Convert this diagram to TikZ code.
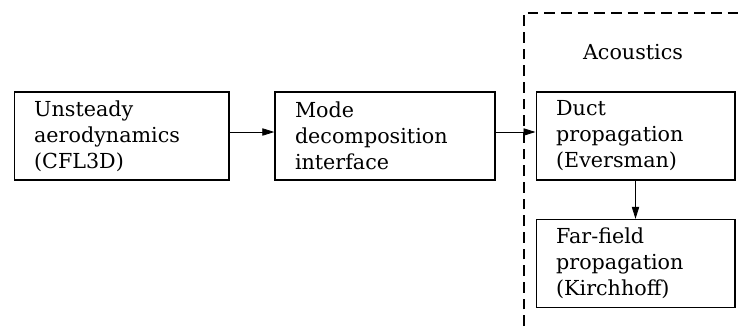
\documentclass[tikz,border=0pt]{standalone}
\usepackage{fontspec}
\setmainfont{DejaVu Serif}
\usetikzlibrary{arrows.meta}

\begin{document}
\begin{tikzpicture}[
        x=0.75pt, y=-0.75pt,
        block/.style={draw, line width=1pt, align=left, inner xsep=15pt,
            minimum height=66pt, font=\fontsize{15.5}{19.5}\selectfont},
        flow/.style={line width=0.6pt, -{Triangle[length=9pt,width=5.5pt]}},
        every node/.style={font=\fontsize{15.5}{19.5}\selectfont}
    ]
    \useasboundingbox (0,0) rectangle (740,326);

    % --- Aerodynamics chain ---
    \node[block, text width=131pt] (aero) at (121.5,136)
        {Unsteady\\aerodynamics\\(CFL3D)};
    \node[block, text width=135pt] (mode) at (385,136)
        {Mode\\decomposition\\interface};

    % --- Acoustics part ---
    \coordinate (corner) at (524,13);
    \draw[line width=0.8pt, dash pattern=on 8pt off 4.5pt]
        (corner |- 0,326) -- (corner) -- (740,13);
    \node (acoustics) at (633,52) {Acoustics};

    \node[block, text width=119pt] (duct) at (635.5,136)
        {Duct\\propagation\\(Eversman)};
    \node[block, text width=119pt] (far) at (635.5,263.5)
        {Far-field\\propagation\\(Kirchhoff)};

    % --- Connectors ---
    \draw[flow] ([yshift=3pt]aero.east) -- ([yshift=3pt]mode.west);
    \draw[flow] ([yshift=3pt]mode.east) -- ([yshift=3pt]duct.west);
    \draw[flow] (duct) -- (far);
\end{tikzpicture}
\end{document}
